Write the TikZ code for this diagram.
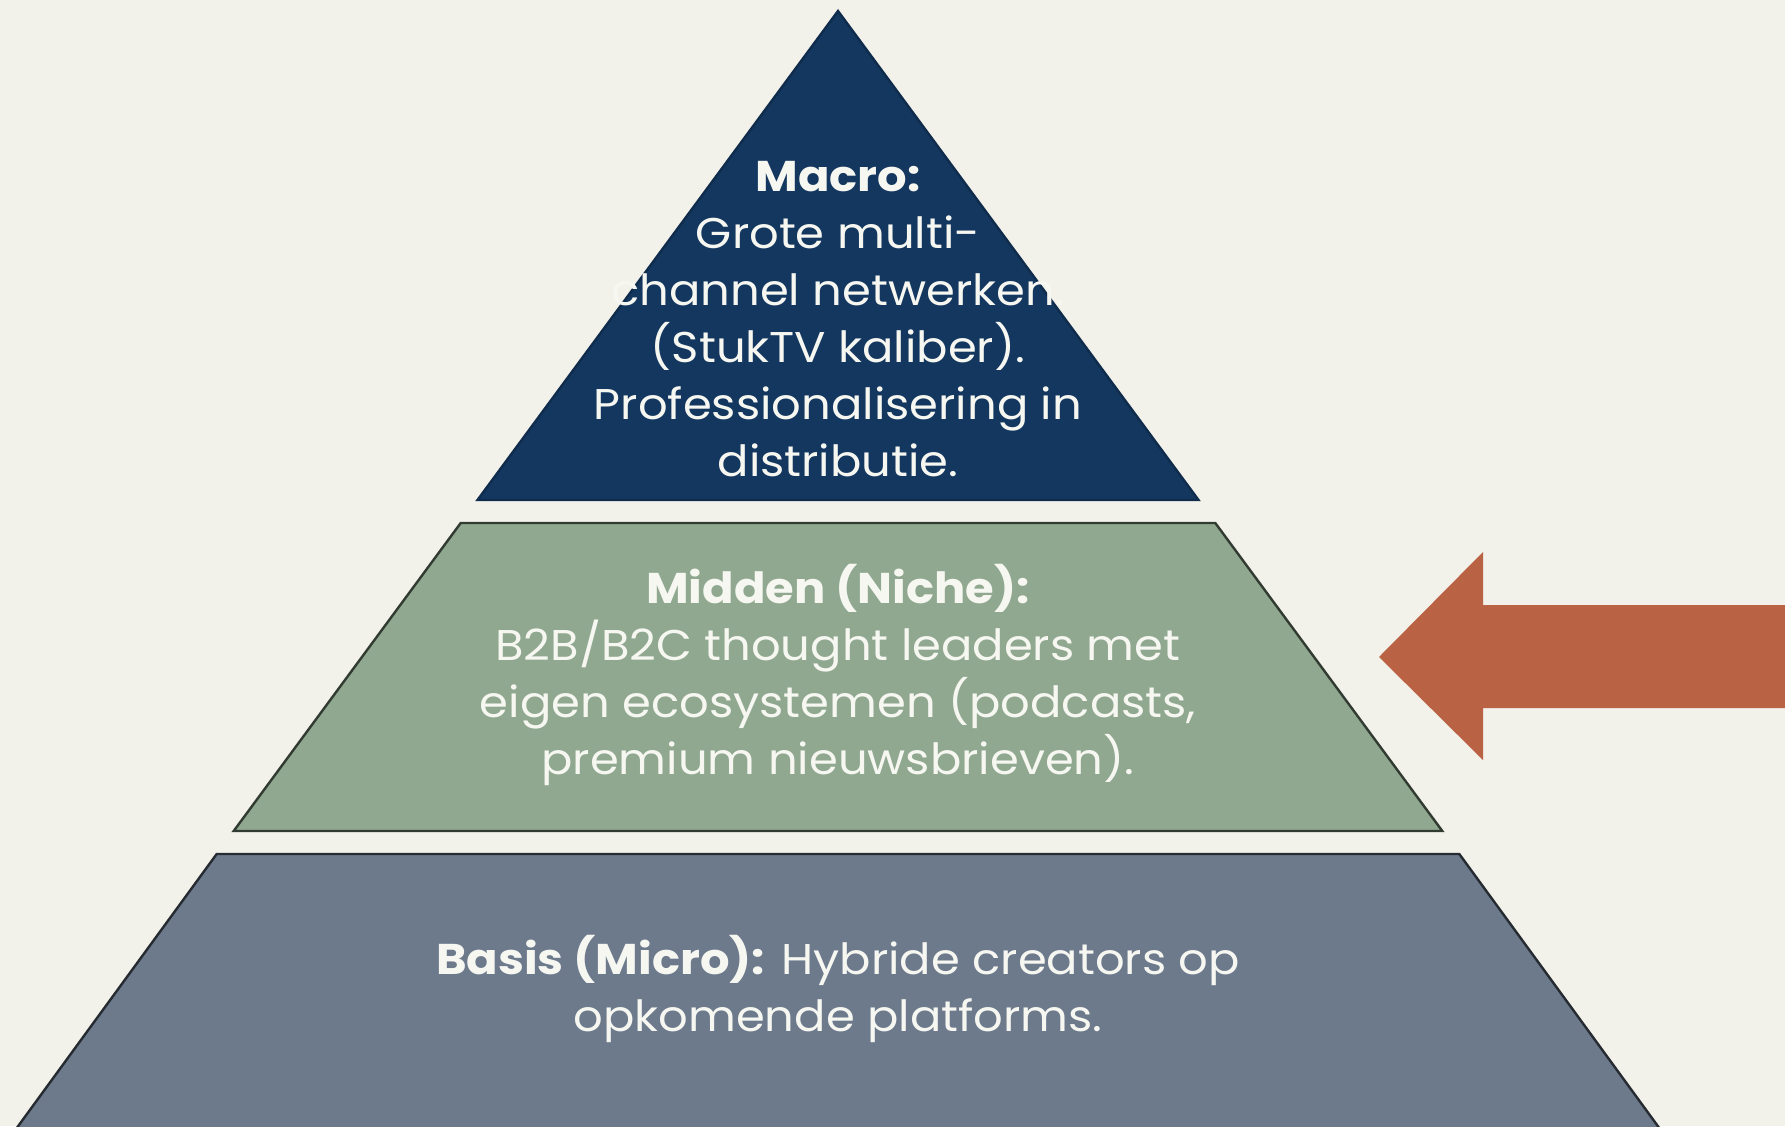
\documentclass[tikz,border=0pt]{standalone}
\usepackage{fontspec}
\setmainfont{Poppins}[FakeStretch=1.08]
\definecolor{bgc}{HTML}{F2F1EA}
\definecolor{navy}{HTML}{14375F}
\definecolor{sage}{HTML}{8FA88F}
\definecolor{slate}{HTML}{6C7A8C}
\definecolor{rust}{HTML}{BA6244}
\definecolor{txt}{HTML}{F7F7F2}
\begin{document}
\begin{tikzpicture}[x=0.5pt,y=-0.5pt,
  layer/.style={line width=1.2pt,line join=miter},
  lbl/.style={text=txt,align=center,inner sep=0pt,font=\fontsize{21.5}{28.5}\selectfont}]
\fill[bgc] (0,0) rectangle (1785,1126);
\useasboundingbox (0,0) rectangle (1785,1126);
% layers
\filldraw[layer,fill=navy,draw=navy!80!black] (838,11) -- (1198.5,500) -- (477.5,500) -- cycle;
\filldraw[layer,fill=sage,draw=sage!35!black] (460.7,523) -- (1215.3,523) -- (1442.3,831) -- (233.7,831) -- cycle;
\filldraw[layer,fill=slate,draw=slate!35!black] (216.7,854) -- (1459.3,854) -- (1668,1140) -- (8,1140) -- cycle;
% arrow
\fill[rust] (1379,657) -- (1483,552) -- (1483,605) -- (1795,605) -- (1795,708) -- (1483,708) -- (1483,760) -- cycle;
% texts
\node[lbl] (macro) at (838,319) {\textbf{Macro:}\\Grote multi-\\channel netwerken.\\(StukTV kaliber).\\Professionalisering in\\distributie.};
\node[lbl] (midden) at (838,675) {\textbf{Midden (Niche):}\\B2B/B2C thought leaders met\\eigen ecosystemen (podcasts,\\premium nieuwsbrieven).};
\node[lbl] (basis) at (838,989) {\textbf{Basis (Micro):} Hybride creators op\\opkomende platforms.};
\end{tikzpicture}
\end{document}
